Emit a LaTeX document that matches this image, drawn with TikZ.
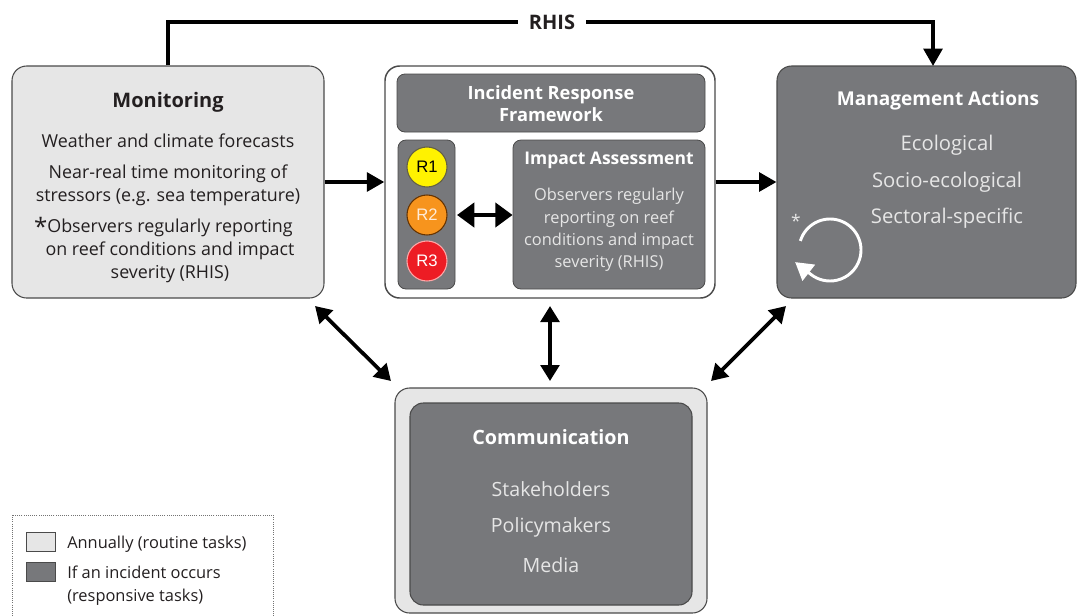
\documentclass[tikz,border=0pt]{standalone}
\usepackage{fontspec}
\setmainfont{Open Sans}
\newfontfamily\labelfont{Liberation Sans}
\usetikzlibrary{arrows.meta,fit}

\definecolor{dk}{HTML}{77787B}
\definecolor{lt}{HTML}{E6E6E6}
\definecolor{rim}{HTML}{4A4A4A}
\definecolor{ink}{HTML}{231F20}
\definecolor{soft}{HTML}{E6E6E6}
\definecolor{rone}{HTML}{FFF200}
\definecolor{rtwo}{HTML}{F7941D}
\definecolor{rthree}{HTML}{ED1C24}

\tikzset{
  panel/.style={draw=rim, line width=0.8pt, rounded corners=11pt, inner sep=0pt},
  lightpanel/.style={panel, fill=lt},
  darkpanel/.style={panel, fill=dk},
  whitepanel/.style={panel, fill=white, line width=1.1pt},
  title/.style={font=\bfseries\fontsize{13.7}{16.5}\selectfont, align=center, inner sep=0pt},
  body/.style={font=\fontsize{13.4}{17.25}\selectfont, align=center, inner sep=0pt, text=ink},
  lightbody/.style={body, text=soft},
  arr/.style={line width=2.8pt, -{Triangle[length=13pt,width=14pt]}},
  darr/.style={line width=2.8pt, {Triangle[length=12pt,width=14pt]}-{Triangle[length=12pt,width=14pt]}},
  level/.style={circle, minimum size=30pt, inner sep=0pt, line width=0.8pt,
    font=\labelfont\fontsize{12.5}{12.5}\selectfont},
  keybox/.style={draw=rim, line width=0.8pt, minimum width=22pt, minimum height=14.5pt, inner sep=0pt},
  keytext/.style={anchor=west, font=\fontsize{12.3}{17}\selectfont, align=left, inner sep=0pt, text=ink}
}

\begin{document}
\begin{tikzpicture}[x=0.75pt, y=-0.75pt]
\useasboundingbox (0,0) rectangle (1078,615);

% ---- Monitoring (routine) ----
\node[lightpanel, fit={(12,66) (324,298)}] (mon) {};
\node[title, text=ink, font=\bfseries\fontsize{15}{17}\selectfont] (monT) at (168,102) {Monitoring};
\node[body] (monA) at (168,141) {Weather and climate forecasts};
\node[body] (monB) at (168,185) {Near-real time monitoring of\\stressors (e.g. sea temperature)};
\node[body] (monC) at (170,250) {\makebox[0pt][r]{\fontsize{18}{18}\selectfont\raisebox{-0.1em}{*}}Observers regularly reporting\\on reef conditions and impact\\severity (RHIS)};

% ---- Incident response framework ----
\node[whitepanel, fit={(385,66) (715,298)}] (frame) {};
\node[darkpanel, rounded corners=6pt, line width=0.6pt, fit={(397,74) (705,132)}] (irf) {};
\node[title, text=white] (irfT) at (551,104) {Incident Response\\Framework};
\node[darkpanel, rounded corners=6pt, line width=0.6pt, fit={(398,140) (455,289)}] (levels) {};
\node[level, fill=rone, draw=black!70!yellow] (r1) at (427,167) {R1};
\node[level, fill=rtwo, draw=black!60!orange, text=white!85!orange] (r2) at (427,215) {R2};
\node[level, fill=rthree, draw=red!35!white, text=white] (r3) at (427,261) {R3};
\node[darkpanel, rounded corners=6pt, line width=0.6pt, fit={(513,140) (705,289)}] (impact) {};
\node[title, text=white, font=\bfseries\fontsize{13.1}{16}\selectfont] (impT) at (609,160) {Impact Assessment};
\node[lightbody, font=\fontsize{12.3}{16.75}\selectfont] (impB) at (609,230)
  {Observers regularly\\reporting on reef\\conditions and impact\\severity (RHIS)};
\coordinate (dA) at (457,215);
\draw[line width=3.5pt, {Triangle[length=13pt,width=18pt]}-{Triangle[length=13pt,width=18pt]}]
  (dA) -- (impact.west |- dA);

% ---- Management actions ----
\node[darkpanel, fit={(777,66) (1076,298)}] (mgmt) {};
\node[title, text=white, font=\bfseries\fontsize{14.3}{17}\selectfont] (mgT) at (938,101) {Management Actions};
\node[lightbody, font=\fontsize{15.2}{18}\selectfont] (mgA) at (947,145) {Ecological};
\node[lightbody, font=\fontsize{15.2}{18}\selectfont] (mgB) at (947,182) {Socio-ecological};
\node[lightbody, font=\fontsize{15.2}{18}\selectfont] (mgC) at (947,218) {Sectoral-specific};
\node[text=soft, inner sep=0pt, font=\fontsize{13}{13}\selectfont] (mgStar) at (796,221) {*};
% review cycle: open circle ending in an arrow head
\draw[white, line width=2.2pt, -{Triangle[length=13pt,width=15pt]}]
  (830,250) ++(-163:31) arc[start angle=-163, end angle=128, radius=31] -- ++(218:20);

% ---- Communication ----
\node[lightpanel, fit={(395,388) (707,613)}] (commOut) {};
\node[darkpanel, rounded corners=10pt, fit={(410,403) (692,605)}] (comm) {};
\node[title, text=white, font=\bfseries\fontsize{14.8}{17}\selectfont] (comT) at (551,437) {Communication};
\node[lightbody, font=\fontsize{14.7}{17}\selectfont] (comA) at (551,489) {Stakeholders};
\node[lightbody, font=\fontsize{14.7}{17}\selectfont] (comB) at (551,527) {Policymakers};
\node[lightbody, font=\fontsize{14.7}{17}\selectfont] (comC) at (551,565) {Media};

% ---- RHIS feedback line ----
\node[fill=white, inner xsep=8pt, inner ysep=2pt, text=ink, font=\bfseries\fontsize{15}{17}\selectfont] (rhis) at (552,22) {RHIS};
\coordinate (rhisIn) at (933,66);
\draw[line width=2.8pt] (mon.north) |- (rhis.west);
\draw[arr] (rhis.east) -| (rhisIn);

% ---- Flow arrows ----
\draw[arr] (mon.east) -- (frame.west);
\draw[arr] (frame.east) -- (mgmt.west);

\coordinate (mcA) at (315,306);
\coordinate (mcB) at (391,381);
\coordinate (fcA) at (550,306);
\coordinate (fcB) at (550,381);
\coordinate (acA) at (786,306);
\coordinate (acB) at (711,381);
\draw[darr] (mcA) -- (mcB);
\draw[darr] (fcA) -- (fcB);
\draw[darr] (acA) -- (acB);

% ---- Key ----
\draw[densely dotted, draw=black!55, line width=0.6pt] (12,515) rectangle (273,625);
\node[keybox, fill=lt] (keyLt) at (41,542) {};
\node[keybox, fill=dk] (keyDk) at (41,572) {};
\node[keytext] (keyLtT) at (67,544) {Annually (routine tasks)};
\node[keytext] (keyDkT) at (67,585.5) {If an incident occurs\\(responsive tasks)};
\end{tikzpicture}
\end{document}
